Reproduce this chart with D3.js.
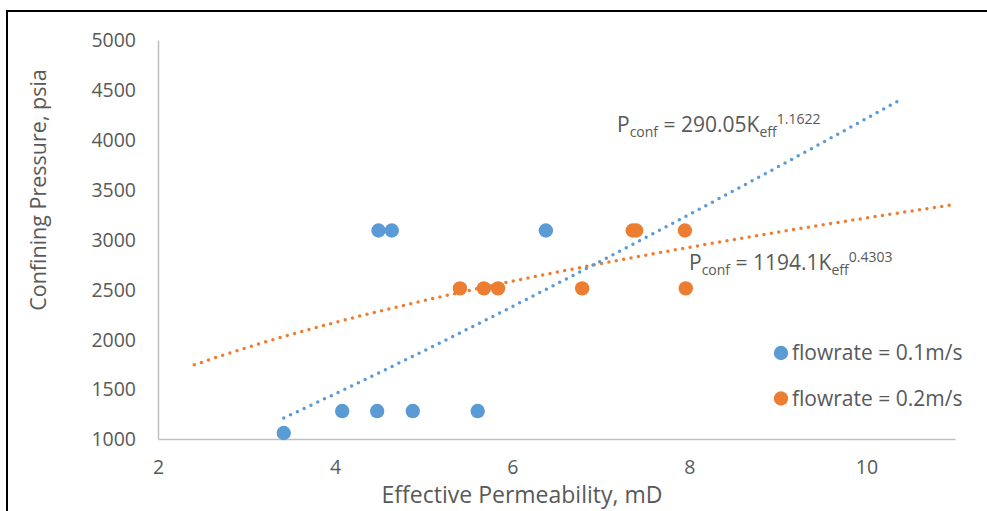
<!DOCTYPE html>
<html>
<head>
<meta charset="utf-8">
<script src="https://cdn.jsdelivr.net/npm/d3@7"></script>
<style>
  body { margin: 0; background: #fff; }
  text { font-family: "Open Sans", sans-serif; fill: #595959; }
</style>
</head>
<body>
<div id="chart"></div>
<script>
// data
const blueK = [3.42, 4.08, 4.475, 4.877, 5.61, 4.49, 4.64, 6.38];
const blueP = [1060, 1280, 1280, 1280, 1280, 3090, 3090, 3090];
const orangeK = [5.41, 5.68, 5.84, 6.79, 7.36, 7.40, 7.95, 7.96];
const orangeP = [2510, 2510, 2510, 2510, 3090, 3090, 3090, 2510];

const xTicks = [2, 4, 6, 8, 10];
const yTicks = [1000, 1500, 2000, 2500, 3000, 3500, 4000, 4500, 5000];

// power trendlines from the equations on the chart: P = a * K^b
const blueFit = {a: 290.05, b: 1.1622, from: 3.42, to: 10.37};
const orangeFit = {a: 1194.1, b: 0.4303, from: 2.41, to: 11};

const seriesNames = ["flowrate = 0.1m/s", "flowrate = 0.2m/s"];
const colors = ["#5B9BD5", "#ED7D31"];

const W = 987, H = 511;
const svg = d3.select("#chart").append("svg")
    .attr("width", W)
    .attr("height", H);

// chart border (open on right and bottom, cut by the window)
svg.append("rect")
    .attr("x", 7).attr("y", 11)
    .attr("width", 1000).attr("height", 600)
    .attr("fill", "none")
    .attr("stroke", "#000")
    .attr("stroke-width", 2);

const x = d3.scaleLinear().domain([2, 11]).range([158, 955]);
const y = d3.scaleLinear().domain([1000, 5000]).range([439, 40]);

// axes
const gx = svg.append("g")
    .attr("transform", `translate(0, ${y(1000)})`)
    .call(d3.axisBottom(x).tickValues(xTicks).tickSize(0).tickPadding(22).tickFormat(d3.format("d")));
const gy = svg.append("g")
    .attr("transform", `translate(${x(2)}, 0)`)
    .call(d3.axisLeft(y).tickValues(yTicks).tickSize(0).tickPadding(22).tickFormat(d3.format("d")));

[gx, gy].forEach(g => {
  g.select(".domain").attr("stroke", "#bfbfbf").attr("stroke-width", 1.5);
  g.selectAll("text")
    .attr("fill", "#595959")
    .style("font-family", "'Open Sans', sans-serif")
    .style("font-size", "19.5px");
});
gx.selectAll("text").attr("y", 21).attr("dy", "0.71em");
gy.selectAll("text").attr("dy", "0.35em");

// axis titles
svg.append("text")
    .attr("x", 522).attr("y", 503)
    .attr("text-anchor", "middle")
    .style("font-size", "23px")
    .text("Effective Permeability, mD");
svg.append("text")
    .attr("transform", "translate(46, 190) rotate(-90)")
    .attr("text-anchor", "middle")
    .style("font-size", "21.5px")
    .text("Confining Pressure, psia");

// trendlines
function fitPoints(f) {
  const n = 200, pts = [];
  for (let i = 0; i <= n; i++) {
    const k = f.from + (f.to - f.from) * i / n;
    pts.push([k, f.a * Math.pow(k, f.b)]);
  }
  return pts;
}
const line = d3.line().x(d => x(d[0])).y(d => y(d[1]));
[orangeFit, blueFit].forEach((f, i) => {
  svg.append("path")
    .attr("d", line(fitPoints(f)))
    .attr("fill", "none")
    .attr("stroke", i === 0 ? colors[1] : colors[0])
    .attr("stroke-width", 3.5)
    .attr("stroke-linecap", "round")
    .attr("stroke-dasharray", "0 7.5");
});

// points
const series = [
  {k: blueK, p: blueP, color: colors[0]},
  {k: orangeK, p: orangeP, color: colors[1]}
];
series.forEach(s => {
  svg.append("g").selectAll("circle")
    .data(d3.range(s.k.length))
    .enter()
    .append("circle")
      .attr("cx", i => x(s.k[i]))
      .attr("cy", i => y(s.p[i]))
      .attr("r", 7.2)
      .attr("fill", s.color);
});

// equations
function equation(tx, ty, coef, exp) {
  const t = svg.append("text").attr("x", tx).attr("y", ty).style("font-size", "21px");
  t.append("tspan").text("P");
  t.append("tspan").attr("dy", 5).style("font-size", "14px").text("conf");
  t.append("tspan").attr("dy", -5).text(" = " + coef + "K");
  t.append("tspan").attr("dy", 5).style("font-size", "14px").text("eff");
  t.append("tspan").attr("dy", -13).style("font-size", "14px").text(exp);
}
equation(617, 132, "290.05", "1.1622");
equation(689, 270, "1194.1", "0.4303");

// legend
seriesNames.forEach((name, i) => {
  const ly = 353 + i * 45.5;
  svg.append("circle").attr("cx", 781).attr("cy", ly).attr("r", 7.2).attr("fill", colors[i]);
  svg.append("text")
    .attr("x", 792).attr("y", ly)
    .attr("dy", "0.35em")
    .style("font-size", "21px")
    .text(name);
});
</script>
</body>
</html>
